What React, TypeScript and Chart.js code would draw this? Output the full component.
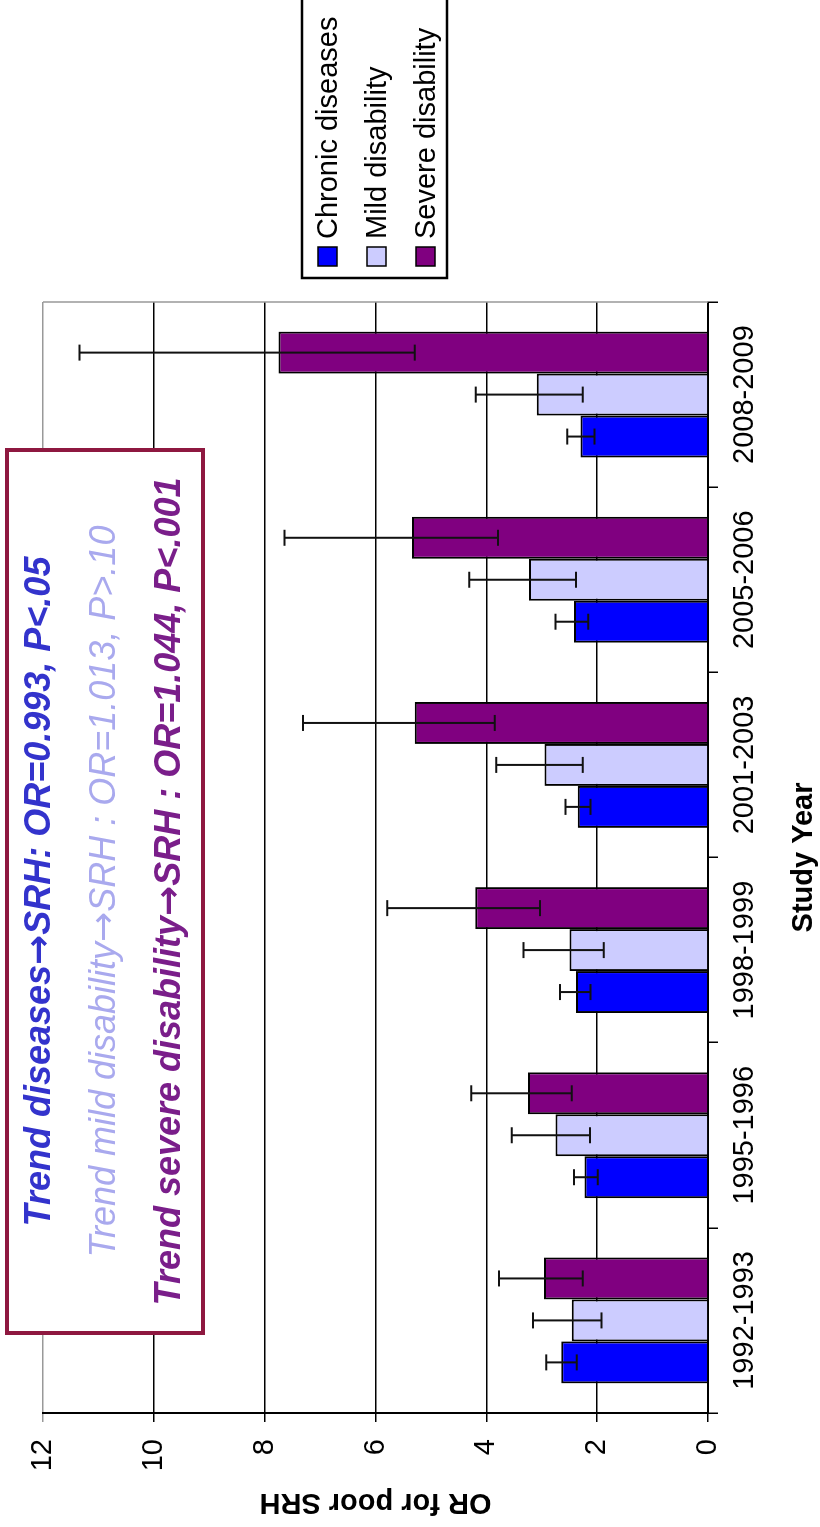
import React, { useEffect, useRef } from 'react';
import { Chart, registerables } from 'chart.js';

Chart.register(...registerables);

// ---- data ----
const studyYears = ['1992-1993', '1995-1996', '1998-1999', '2001-2003', '2005-2006', '2008-2009'];
const seriesNames = ['Chronic diseases', 'Mild disability', 'Severe disability'];

const chronicOR = [2.65, 2.23, 2.38, 2.35, 2.42, 2.30];
const chronicLow = [2.37, 1.99, 2.12, 2.12, 2.16, 2.05];
const chronicHigh = [2.92, 2.42, 2.67, 2.57, 2.75, 2.54];

const mildOR = [2.46, 2.75, 2.50, 2.95, 3.23, 3.09];
const mildLow = [1.92, 2.13, 1.88, 2.26, 2.38, 2.26];
const mildHigh = [3.16, 3.54, 3.33, 3.82, 4.31, 4.19];

const severeOR = [2.96, 3.25, 4.20, 5.29, 5.34, 7.75];
const severeLow = [2.26, 2.46, 3.03, 3.85, 3.79, 5.29];
const severeHigh = [3.77, 4.27, 5.79, 7.31, 7.64, 11.34];

const yTicks = [0, 2, 4, 6, 8, 10, 12];

const trendLines = [
  'Trend diseases\u2192SRH: OR=0.993, P<.05',
  'Trend mild disability\u2192SRH : OR=1.013, P>.10',
  'Trend severe disability\u2192SRH : OR=1.044, P<.001',
];

const colors = ['#0000FF', '#CCCCFF', '#800080'];
const trendColors = ['#3333CC', '#A9A9EE', '#7A1E8A'];
const FONT = '"Liberation Sans", Arial, sans-serif';
const ARROW_FONT = '"DejaVu Sans", sans-serif';

const lows = [chronicLow, mildLow, severeLow];
const highs = [chronicHigh, mildHigh, severeHigh];

const errorBarPlugin = {
  id: 'errorBars',
  afterDatasetsDraw(chart: any) {
    const ctx = chart.ctx;
    const y = chart.scales.y;
    ctx.save();
    ctx.strokeStyle = '#111';
    ctx.lineWidth = 2;
    chart.data.datasets.forEach((_: any, di: number) => {
      const meta = chart.getDatasetMeta(di);
      meta.data.forEach((bar: any, i: number) => {
        const x = bar.x;
        const y1 = y.getPixelForValue(lows[di][i]);
        const y2 = y.getPixelForValue(highs[di][i]);
        ctx.beginPath();
        ctx.moveTo(x, y1);
        ctx.lineTo(x, y2);
        ctx.moveTo(x - 8, y1);
        ctx.lineTo(x + 8, y1);
        ctx.moveTo(x - 8, y2);
        ctx.lineTo(x + 8, y2);
        ctx.stroke();
      });
    });
    ctx.restore();
  },
};

const framePlugin = {
  id: 'frame',
  beforeDatasetsDraw(chart: any) {
    const { ctx, chartArea } = chart;
    ctx.save();
    ctx.strokeStyle = '#999';
    ctx.lineWidth = 1.5;
    ctx.beginPath();
    ctx.moveTo(chartArea.right, chartArea.top);
    ctx.lineTo(chartArea.right, chartArea.bottom);
    ctx.stroke();
    ctx.restore();
  },
};

const overlayPlugin = {
  id: 'overlay',
  afterDraw(chart: any) {
    const ctx = chart.ctx;
    ctx.save();
    // trend box
    const bx = 194, by = 7, bw = 883, bh = 196;
    ctx.fillStyle = '#fff';
    ctx.fillRect(bx, by, bw, bh);
    ctx.strokeStyle = '#8E1840';
    ctx.lineWidth = 4;
    ctx.strokeRect(bx, by, bw, bh);
    ctx.textAlign = 'left';
    ctx.textBaseline = 'middle';
    const ys = [40, 105, 170];
    trendLines.forEach((t, i) => {
      const style = i === 1 ? 'italic ' : 'italic bold ';
      const textFont = style + '36px ' + FONT;
      const arrowFont = (i === 1 ? '' : 'bold ') + '36px ' + ARROW_FONT;
      const [a, b] = t.split('\u2192');
      ctx.font = textFont;
      const wa = ctx.measureText(a).width;
      const wb = ctx.measureText(b).width;
      ctx.font = arrowFont;
      const warr = ctx.measureText('\u2192').width;
      let x = bx + bw / 2 - (wa + wb + warr) / 2;
      ctx.fillStyle = trendColors[i];
      ctx.font = textFont;
      ctx.fillText(a, x, ys[i]);
      x += wa;
      ctx.font = arrowFont;
      ctx.fillText('\u2192', x, ys[i] + 1);
      x += warr;
      ctx.font = textFont;
      ctx.fillText(b, x, ys[i]);
    });
    // legend
    ctx.strokeStyle = '#000';
    ctx.lineWidth = 2.5;
    ctx.strokeRect(1249, 302, 300, 145);
    const base = [337, 386, 435];
    ctx.textAlign = 'left';
    ctx.textBaseline = 'alphabetic';
    ctx.font = '29px ' + FONT;
    seriesNames.forEach((n, i) => {
      ctx.fillStyle = colors[i];
      ctx.fillRect(1261, base[i] - 19, 19, 19);
      ctx.strokeStyle = '#000';
      ctx.lineWidth = 1.5;
      ctx.strokeRect(1261, base[i] - 19, 19, 19);
      ctx.fillStyle = '#000';
      ctx.fillText(n, 1288, base[i]);
    });
    ctx.restore();
  },
};

export default function App() {
  const ref = useRef<HTMLCanvasElement>(null);
  useEffect(() => {
    const canvas = ref.current as HTMLCanvasElement;
    Chart.defaults.font.family = FONT;
    const values = [chronicOR, mildOR, severeOR];
    const chart = new Chart(canvas, {
      type: 'bar',
      data: {
        labels: studyYears,
        datasets: seriesNames.map((n, i) => ({
          label: n,
          data: values[i],
          backgroundColor: colors[i],
          borderColor: '#000',
          borderWidth: 2,
          categoryPercentage: 0.68,
          barPercentage: 1.0,
        })),
      },
      options: {
        animation: false,
        responsive: false,
        events: [],
        layout: { padding: { top: 43, right: 302, bottom: 0, left: 0 } },
        plugins: { legend: { display: false }, tooltip: { enabled: false } },
        scales: {
          x: {
            type: 'category',
            offset: true,
            grid: {
              offset: true,
              drawOnChartArea: false,
              drawTicks: true,
              tickLength: 10,
              color: '#000',
              lineWidth: 1.5,
            },
            border: { display: true, color: '#000', width: 2 },
            ticks: { color: '#000', font: { size: 29 }, padding: 10, maxRotation: 0, autoSkip: false },
            title: {
              display: true,
              text: 'Study Year',
              color: '#000',
              font: { size: 29, weight: 'bold', lineHeight: 1 },
              padding: { top: 0, bottom: 2 },
            },
            afterFit: (s: any) => { s.height = 112; },
          },
          y: {
            min: 0,
            max: 12,
            afterBuildTicks: (s: any) => { s.ticks = yTicks.map((v) => ({ value: v })); },
            grid: {
              color: (c: any) => (c.tick && c.tick.value === 12 ? '#999' : '#000'),
              lineWidth: 1.5,
              tickLength: 9,
              drawTicks: true,
            },
            border: { display: true, color: '#000', width: 2 },
            ticks: { color: '#000', font: { size: 29 }, padding: 17 },
            title: {
              display: true,
              text: 'OR for poor SRH',
              color: '#000',
              font: { size: 29, weight: 'bold' },
              padding: { top: 8, bottom: 0 },
            },
            afterFit: (s: any) => { s.width = 114; },
          },
        },
      },
      plugins: [framePlugin, errorBarPlugin, overlayPlugin],
    } as any);
    return () => chart.destroy();
  }, []);

  return (
    <div style={{ position: 'absolute', left: 0, top: 0, width: 820, height: 1527, overflow: 'hidden', background: '#fff' }}>
      <div
        style={{
          position: 'absolute',
          left: 0,
          top: 0,
          width: 1527,
          height: 820,
          transformOrigin: '0 0',
          transform: 'translate(0px, 1527px) rotate(-90deg)',
        }}
      >
        <canvas ref={ref} width={1527} height={820} style={{ display: 'block' }} />
      </div>
    </div>
  );
}
